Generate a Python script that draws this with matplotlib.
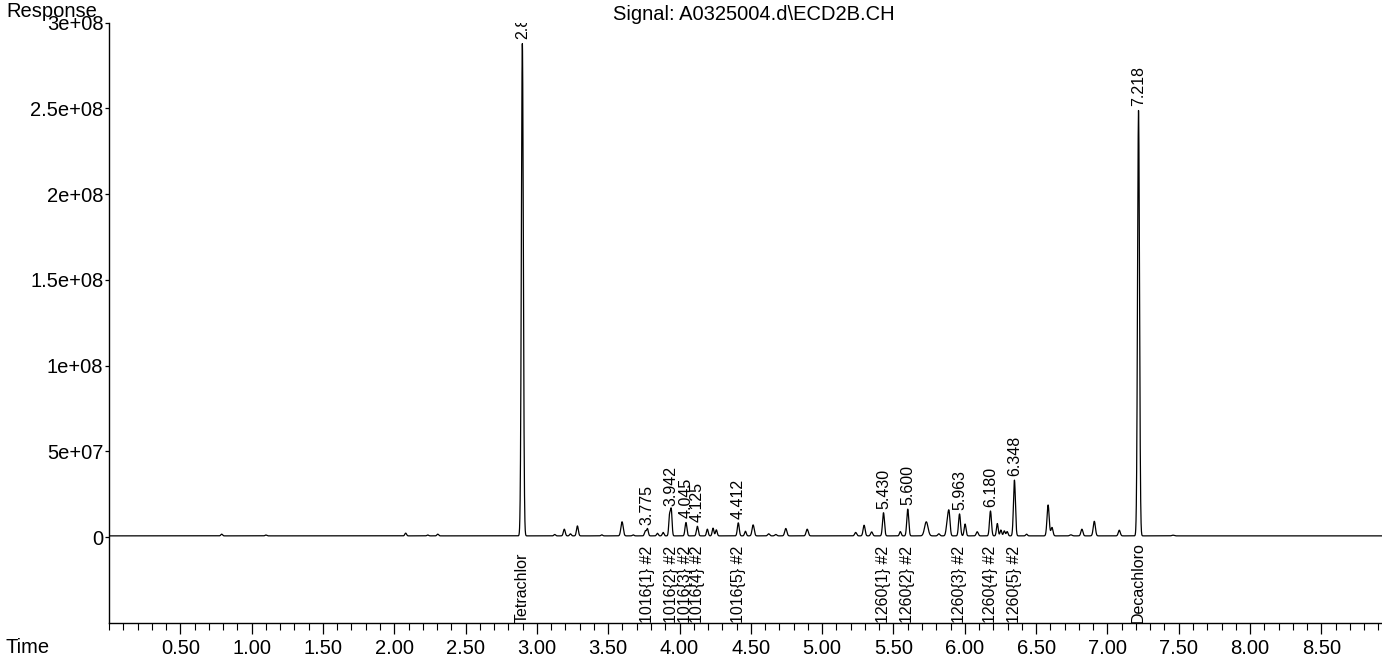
import numpy as np
import matplotlib
matplotlib.use("Agg")
import matplotlib.pyplot as plt
from matplotlib.ticker import FixedLocator, MultipleLocator

plt.rcParams['font.family'] = ['Liberation Sans', 'DejaVu Sans']

# ---- data ----
# labelled peaks: retention time (min), height (response), width (sigma, min)
labeled_rt = [2.898, 3.775, 3.942, 4.045, 4.125, 4.412, 5.430, 5.600, 5.963, 6.180, 6.348, 7.218]
labeled_height = [2.87e8, 4.2e6, 15.0e6, 7.8e6, 5.6e6, 7.6e6, 13.5e6, 15.6e6, 12.8e6, 14.5e6, 32.5e6, 2.48e8]
labeled_sigma = [0.0068, 0.006, 0.0055, 0.0065, 0.0065, 0.0065, 0.0068, 0.0068, 0.0068, 0.0068, 0.0068, 0.0068]
upper_labels = ["2.898", "3.775", "3.942", "4.045", "4.125", "4.412", "5.430", "5.600",
                "5.963", "6.180", "6.348", "7.218"]
lower_labels = ["Tetrachlor", "1016{1} #2", "1016{2} #2", "1016{3} #2", "1016{4} #2", "1016{5} #2",
                "1260{1} #2", "1260{2} #2", "1260{3} #2", "1260{4} #2", "1260{5} #2", "Decachloro"]

# unlabelled peaks
other_rt = [0.79, 1.10, 2.08, 2.235, 2.305, 3.125, 3.192, 3.235, 3.284, 3.455, 3.597, 3.675,
            3.760, 3.845, 3.885, 3.930, 4.195, 4.235, 4.258, 4.462, 4.516, 4.625, 4.675, 4.745,
            4.895, 5.235, 5.294, 5.347, 5.548, 5.730, 5.818, 5.878, 5.890, 6.002, 6.087,
            6.228, 6.253, 6.277, 6.297, 6.433, 6.584, 6.611, 6.744, 6.821, 6.908, 7.083, 7.46]
other_height = [1.0e6, 0.5e6, 1.6e6, 0.5e6, 1.0e6, 0.8e6, 3.9e6, 1.2e6, 5.8e6, 0.6e6, 8.2e6, 0.6e6,
                2.8e6, 1.5e6, 2.0e6, 11.7e6, 3.9e6, 4.5e6, 3.5e6, 2.7e6, 6.4e6, 1.2e6, 0.8e6, 4.3e6,
                3.9e6, 2.0e6, 6.2e6, 2.3e6, 2.5e6, 8.2e6, 1.2e6, 8.0e6, 12.0e6, 6.9e6, 2.4e6,
                7.2e6, 3.4e6, 2.9e6, 2.5e6, 1.0e6, 18.0e6, 4.9e6, 0.6e6, 3.9e6, 8.5e6, 3.3e6, 0.4e6]
other_sigma = [0.006, 0.006, 0.006, 0.006, 0.006, 0.006, 0.0065, 0.006, 0.0065, 0.006, 0.008, 0.006,
               0.006, 0.006, 0.006, 0.0055, 0.006, 0.006, 0.006, 0.006, 0.0075, 0.007, 0.007, 0.0075,
               0.0075, 0.007, 0.007, 0.007, 0.006, 0.012, 0.007, 0.008, 0.007, 0.0065, 0.007,
               0.006, 0.006, 0.006, 0.006, 0.006, 0.0075, 0.007, 0.008, 0.007, 0.0075, 0.007, 0.008]
baseline_level = 0.8e6

ytick_values = [0, 5e7, 1e8, 1.5e8, 2e8, 2.5e8, 3e8]
ytick_labels = ["0", "5e+07", "1e+08", "1.5e+08", "2e+08", "2.5e+08", "3e+08"]
xtick_values = [0.5, 1.0, 1.5, 2.0, 2.5, 3.0, 3.5, 4.0, 4.5, 5.0, 5.5, 6.0, 6.5, 7.0, 7.5, 8.0, 8.5]
xtick_labels = ["0.50", "1.00", "1.50", "2.00", "2.50", "3.00", "3.50", "4.00", "4.50",
                "5.00", "5.50", "6.00", "6.50", "7.00", "7.50", "8.00", "8.50"]

# ---- build the trace from the peak table ----
t = np.arange(0.0, 8.93, 0.0004)
signal = np.full_like(t, baseline_level)
for rt, h, s in zip(labeled_rt + other_rt, labeled_height + other_height, labeled_sigma + other_sigma):
    signal += h * np.exp(-0.5 * ((t - rt) / s) ** 2)

W, H = 1382, 658
fig = plt.figure(figsize=(W / 100, H / 100), dpi=100)
ax = fig.add_axes([109 / W, (H - 623) / H, (W - 109) / W, (623 - 22.7) / H])
ax.plot(t, signal, color="black", lw=0.9)
ax.set_xlim(0, 8.925)
ax.set_ylim(-5e7, 3e8)

for sp in ["top", "right"]:
    ax.spines[sp].set_visible(False)
ax.spines["left"].set_linewidth(1.0)
ax.spines["bottom"].set_linewidth(1.0)

ax.xaxis.set_major_locator(FixedLocator(xtick_values))
ax.set_xticklabels(xtick_labels)
ax.xaxis.set_minor_locator(MultipleLocator(0.1))
ax.tick_params(axis="x", which="major", length=8, width=0.9, pad=3.5, labelsize=14.5)
ax.tick_params(axis="x", which="minor", length=5, width=0.8)
ax.yaxis.set_major_locator(FixedLocator(ytick_values))
ax.set_yticklabels(ytick_labels)
ax.tick_params(axis="y", which="major", length=3, width=0.9, pad=1, labelsize=14.5)

for rt, h, lab in zip(labeled_rt, labeled_height, upper_labels):
    ax.annotate(lab, xy=(rt, h + baseline_level), xytext=(0, 3), textcoords="offset points",
                rotation=90, ha="center", va="bottom", fontsize=11.5, annotation_clip=True,
                clip_on=True)
for rt, lab in zip(labeled_rt, lower_labels):
    ax.text(rt, -5e7, lab, rotation=90, ha="center", va="bottom", fontsize=11.5)

fig.text(6 / W, 1 - 17 / H, "Response", fontsize=14.5, va="baseline", ha="left")
fig.text(754 / W, 1 - 20.5 / H, "Signal: A0325004.d\\ECD2B.CH", fontsize=14.5,
         va="baseline", ha="center")
fig.text(5 / W, 1 - 653 / H, "Time", fontsize=14.5, va="baseline", ha="left")

fig.savefig("out.png", dpi=100)
